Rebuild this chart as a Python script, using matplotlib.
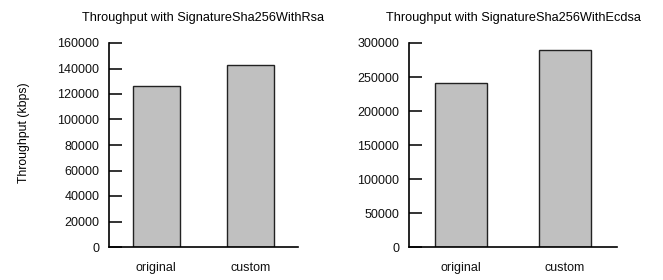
import matplotlib
matplotlib.use("Agg")
import matplotlib.pyplot as plt

plt.rcParams['font.family'] = ['Liberation Sans', 'DejaVu Sans']

categories = ['original', 'custom']
rsa_values = [126300, 142700]
ecdsa_values = [241200, 289700]
rsa_ticks = [0, 20000, 40000, 60000, 80000, 100000, 120000, 140000, 160000]
ecdsa_ticks = [0, 50000, 100000, 150000, 200000, 250000, 300000]

fig = plt.figure(figsize=(6.63, 2.8), dpi=100)
ax1 = fig.add_axes([109/663, 33/280, 189/663, 204/280])
ax2 = fig.add_axes([409/663, 33/280, 208/663, 204/280])


def draw(ax, values, ticks, title):
    x = list(range(len(categories)))
    ax.bar(x, values, width=0.5, color='#c0c0c0', edgecolor='#222222',
           linewidth=1.0, zorder=2)
    ax.set_xlim(-0.5, 1.5)
    ax.set_ylim(0, ticks[-1])
    ax.set_yticks(ticks)
    ax.set_yticklabels([str(t) for t in ticks])
    ax.set_xticks(x)
    ax.set_xticklabels(categories)
    ax.spines['top'].set_visible(False)
    ax.spines['right'].set_visible(False)
    ax.spines['left'].set_linewidth(1.2)
    ax.spines['bottom'].set_linewidth(1.2)
    ax.spines['left'].set_zorder(3)
    ax.spines['bottom'].set_zorder(3)
    ax.tick_params(axis='both', direction='in', length=9, width=1.2,
                   labelsize=9, colors='#111111')
    ax.tick_params(axis='x', pad=11)
    ax.tick_params(axis='y', pad=7)
    ax.set_title(title, fontsize=9.2, pad=16)


draw(ax1, rsa_values, rsa_ticks, 'Throughput with SignatureSha256WithRsa')
draw(ax2, ecdsa_values, ecdsa_ticks, 'Throughput with SignatureSha256WithEcdsa')
ax1.set_ylabel('Throughput (kbps)', fontsize=8.8)
ax1.yaxis.set_label_coords(-0.42, 0.56)

fig.savefig('out.png', dpi=100)
